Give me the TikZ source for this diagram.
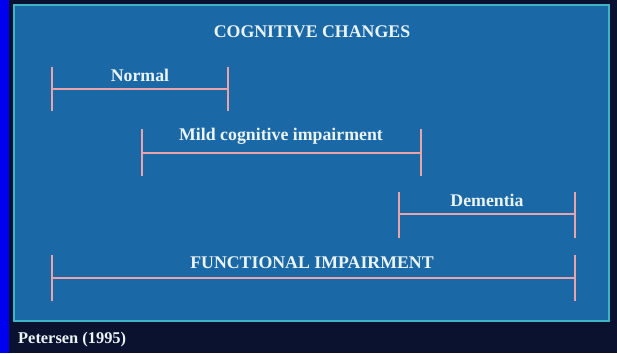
\documentclass[tikz,border=0pt]{standalone}
\usepackage{fontspec}
\setmainfont{Liberation Serif}
\definecolor{bgdark}{HTML}{0B1230}
\definecolor{sideblue}{HTML}{0000F0}
\definecolor{panel}{HTML}{1A68A6}
\definecolor{panelborder}{HTML}{3FB4C8}
\definecolor{pinkbar}{HTML}{E8A4A8}
\definecolor{txt}{HTML}{EAF4F6}
\begin{document}
\begin{tikzpicture}[x=1pt,y=-1pt,
  lbl/.style={text=txt,font=\bfseries\fontsize{17.8}{19}\selectfont,inner sep=0pt},
  bar/.style={draw=pinkbar,line width=2.6pt},
  tick/.style={draw=pinkbar,line width=2.4pt}]
\fill[bgdark] (0,0) rectangle (617,353);
\useasboundingbox (0,0) rectangle (617,353);
\fill[sideblue] (0,0) rectangle (9,353);
\draw[panelborder,fill=panel,line width=1.5pt] (14,5) rectangle (609,321);
\node[lbl] (title) at (312,32) {COGNITIVE CHANGES};
% Normal
\coordinate (n1) at (52,89); \coordinate (n2) at (228,89);
\draw[bar] (n1) -- (n2);
\draw[tick] (52,67) -- (52,111);
\draw[tick] (228,67) -- (228,111);
\node[lbl] (normal) at (140,75) {Normal};
% MCI
\coordinate (m1) at (142,153); \coordinate (m2) at (421,153);
\draw[bar] (m1) -- (m2);
\draw[tick] (142,129) -- (142,176);
\draw[tick] (421,129) -- (421,176);
\node[lbl] (mci) at (281,136) {Mild cognitive impairment};
% Dementia
\coordinate (d1) at (399,214); \coordinate (d2) at (575,214);
\draw[bar] (d1) -- (d2);
\draw[tick] (399,192) -- (399,238);
\draw[tick] (575,192) -- (575,238);
\node[lbl] (dem) at (487,200) {Dementia};
% Functional
\coordinate (f1) at (52,278); \coordinate (f2) at (575,278);
\draw[bar] (f1) -- (f2);
\draw[tick] (52,255) -- (52,301);
\draw[tick] (575,255) -- (575,301);
\node[lbl] (func) at (312,263) {FUNCTIONAL IMPAIRMENT};
\node[lbl,anchor=west,font=\bfseries\fontsize{16.4}{17}\selectfont] (ref) at (18,340) {Petersen (1995)};
\end{tikzpicture}
\end{document}
